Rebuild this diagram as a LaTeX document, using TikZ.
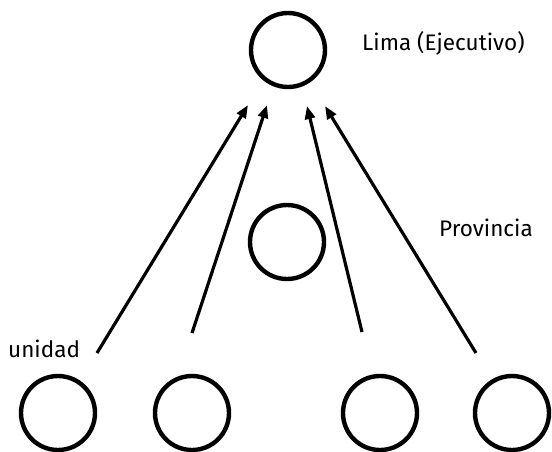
\documentclass[tikz,border=0pt]{standalone}
\usepackage{fontspec}
\setmainfont{Fira Sans}
\usetikzlibrary{arrows.meta}
\tikzset{
  unit/.style={circle, draw=black, line width=4.4pt, minimum size=74pt, inner sep=0pt},
  lbl/.style={font=\fontsize{22.5}{26}\selectfont, inner sep=0pt},
  conn/.style={line width=3.2pt, -{Triangle[length=13pt,width=10pt]}}
}
\begin{document}
\begin{tikzpicture}[x=1pt,y=-1pt]
\useasboundingbox[fill=white] (0,0) rectangle (552,451);
\node[unit] (lima) at (288,50) {};
\node[unit] (prov) at (287,242) {};
\node[unit] (u1) at (58,413) {};
\node[unit] (u2) at (192,413) {};
\node[unit] (u3) at (380,413) {};
\node[unit] (u4) at (512,413) {};
\node[lbl, anchor=west] (tlima) at (362,43) {Lima (Ejecutivo)};
\node[lbl, anchor=west] (tprov) at (439,228) {Provincia};
\node[lbl, anchor=west] (tunid) at (8,349) {unidad};
\coordinate (s1) at (97,353);
\coordinate (e1) at (248,105);
\coordinate (s2) at (192,333);
\coordinate (e2) at (267,105);
\coordinate (s3) at (362,332);
\coordinate (e3) at (307,106);
\coordinate (s4) at (476,353);
\coordinate (e4) at (325,106);
\draw[conn] (s1) -- (e1);
\draw[conn] (s2) -- (e2);
\draw[conn] (s3) -- (e3);
\draw[conn] (s4) -- (e4);
\end{tikzpicture}
\end{document}
